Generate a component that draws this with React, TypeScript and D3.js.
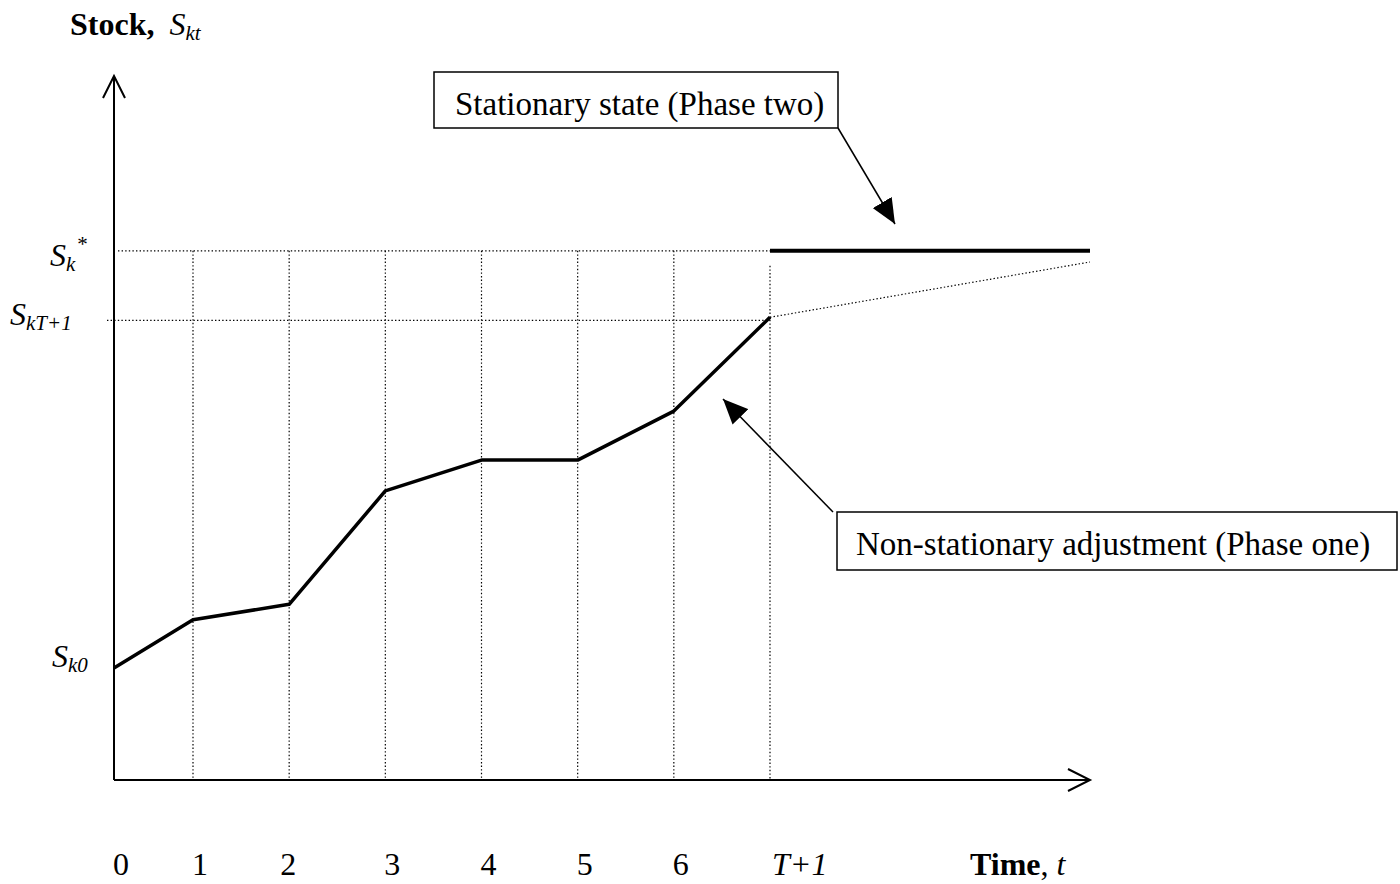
import * as d3 from "d3"

// period index 7 stands for T+1
const periods = [0, 1, 2, 3, 4, 5, 6, 7]
const tickLabels = ["0", "1", "2", "3", "4", "5", "6", "T+1"]
const stock = [16, 22.9, 25.1, 41.3, 45.7, 45.7, 52.7, 66.1]
const steadyState = 75.6
const trendEnd = 74
const horizonEnd = 10.33

const W = 1400
const H = 884
const SERIF = "'Liberation Serif', 'Times New Roman', serif"
const DOT = "1.4,2.2"

export default function App() {
  const x = d3.scaleLinear().domain([0, 1, 7, horizonEnd]).range([114, 193, 770, 1090])
  const y = d3.scaleLinear().domain([0, 100]).range([780, 80])

  const line = d3
    .line<number>()
    .x((_, i) => x(periods[i]))
    .y((d) => y(d))

  const x0 = x(0)
  const y0 = y(0)
  const last = periods[periods.length - 1]
  const xEnd = x(horizonEnd)
  const yStar = y(steadyState)
  const yT = y(stock[stock.length - 1])

  return (
    <svg
      width={W}
      height={H}
      viewBox={`0 0 ${W} ${H}`}
      style={{ position: "absolute", left: 0, top: 0, background: "#fff" }}
      fontFamily={SERIF}
    >
      <defs>
        <marker id="tri" viewBox="0 0 10 10" refX={10} refY={5} markerWidth={25} markerHeight={22} markerUnits="userSpaceOnUse" orient="auto" preserveAspectRatio="none">
          <path d="M0,0 L10,5 L0,10 z" fill="#000" />
        </marker>
      </defs>

      {/* dotted guides */}
      <g stroke="#000" strokeWidth={1.2} strokeDasharray={DOT} fill="none">
        <line x1={x0 + 4} x2={x(last)} y1={yStar} y2={yStar} />
        <line x1={x0 - 7} x2={x(last)} y1={yT + 3} y2={yT + 3} />
        {periods.slice(1).map((p) => (
          <line key={p} x1={x(p)} x2={x(p)} y1={p === last ? yStar + 15 : yStar} y2={y0} />
        ))}
        <line x1={x(last)} y1={yT} x2={xEnd} y2={y(trendEnd)} />
      </g>

      {/* axes */}
      <g stroke="#000" strokeWidth={2} fill="none">
        <line x1={x0} y1={y0} x2={x0} y2={76} />
        <polyline points={`${x0 - 11},98 ${x0},76 ${x0 + 11},98`} />
        <line x1={x0} y1={y0} x2={xEnd} y2={y0} />
        <polyline points={`${xEnd - 22},769 ${xEnd},${y0} ${xEnd - 22},791`} />
      </g>

      {/* stock path */}
      <path d={line(stock) ?? undefined} fill="none" stroke="#000" strokeWidth={3.5} strokeLinejoin="round" />
      <line x1={x(last)} x2={xEnd} y1={yStar} y2={yStar} stroke="#000" strokeWidth={4} />

      {/* y labels */}
      <text x={70} y={35} fontSize={32}>
        <tspan fontWeight={700}>Stock,</tspan>
        <tspan dx={15} fontStyle="italic">S</tspan>
        <tspan fontStyle="italic" fontSize={21} dy={5}>kt</tspan>
      </text>
      <text x={50} y={yStar + 15} fontStyle="italic" fontSize={32}>
        S<tspan fontSize={21} dy={5}>k</tspan>
        <tspan fontSize={21} dx={2} dy={-20} fontStyle="normal">*</tspan>
      </text>
      <text x={10} y={yT + 8} fontStyle="italic" fontSize={32}>
        S<tspan fontSize={21} dy={5}>kT+1</tspan>
      </text>
      <text x={52} y={y(stock[0]) - 1} fontStyle="italic" fontSize={32}>
        S<tspan fontSize={21} dy={5}>k0</tspan>
      </text>

      {/* x labels */}
      <g fontSize={32}>
        {periods.map((p, i) => (
          <text
            key={p}
            x={p === last ? x(p) + 2 : x(p) + (p === 2 ? -1 : 7)}
            y={875}
            textAnchor={p === last ? "start" : "middle"}
            fontStyle={p === last ? "italic" : "normal"}
          >
            {tickLabels[i]}
          </text>
        ))}
      </g>
      <text x={970} y={875} fontSize={32}>
        <tspan fontWeight={700}>Time</tspan>, <tspan fontStyle="italic">t</tspan>
      </text>

      {/* callouts */}
      <rect x={434} y={72} width={404} height={56} fill="#fff" stroke="#000" strokeWidth={1.5} />
      <text x={455} y={115} fontSize={33}>Stationary state (Phase two)</text>
      <line x1={838} y1={128} x2={895} y2={224} stroke="#000" strokeWidth={1.5} markerEnd="url(#tri)" />

      <rect x={837} y={512} width={560} height={58} fill="#fff" stroke="#000" strokeWidth={1.5} />
      <text x={856} y={555} fontSize={33}>Non-stationary adjustment (Phase one)</text>
      <line x1={833} y1={512} x2={723} y2={399} stroke="#000" strokeWidth={1.5} markerEnd="url(#tri)" />
    </svg>
  )
}
